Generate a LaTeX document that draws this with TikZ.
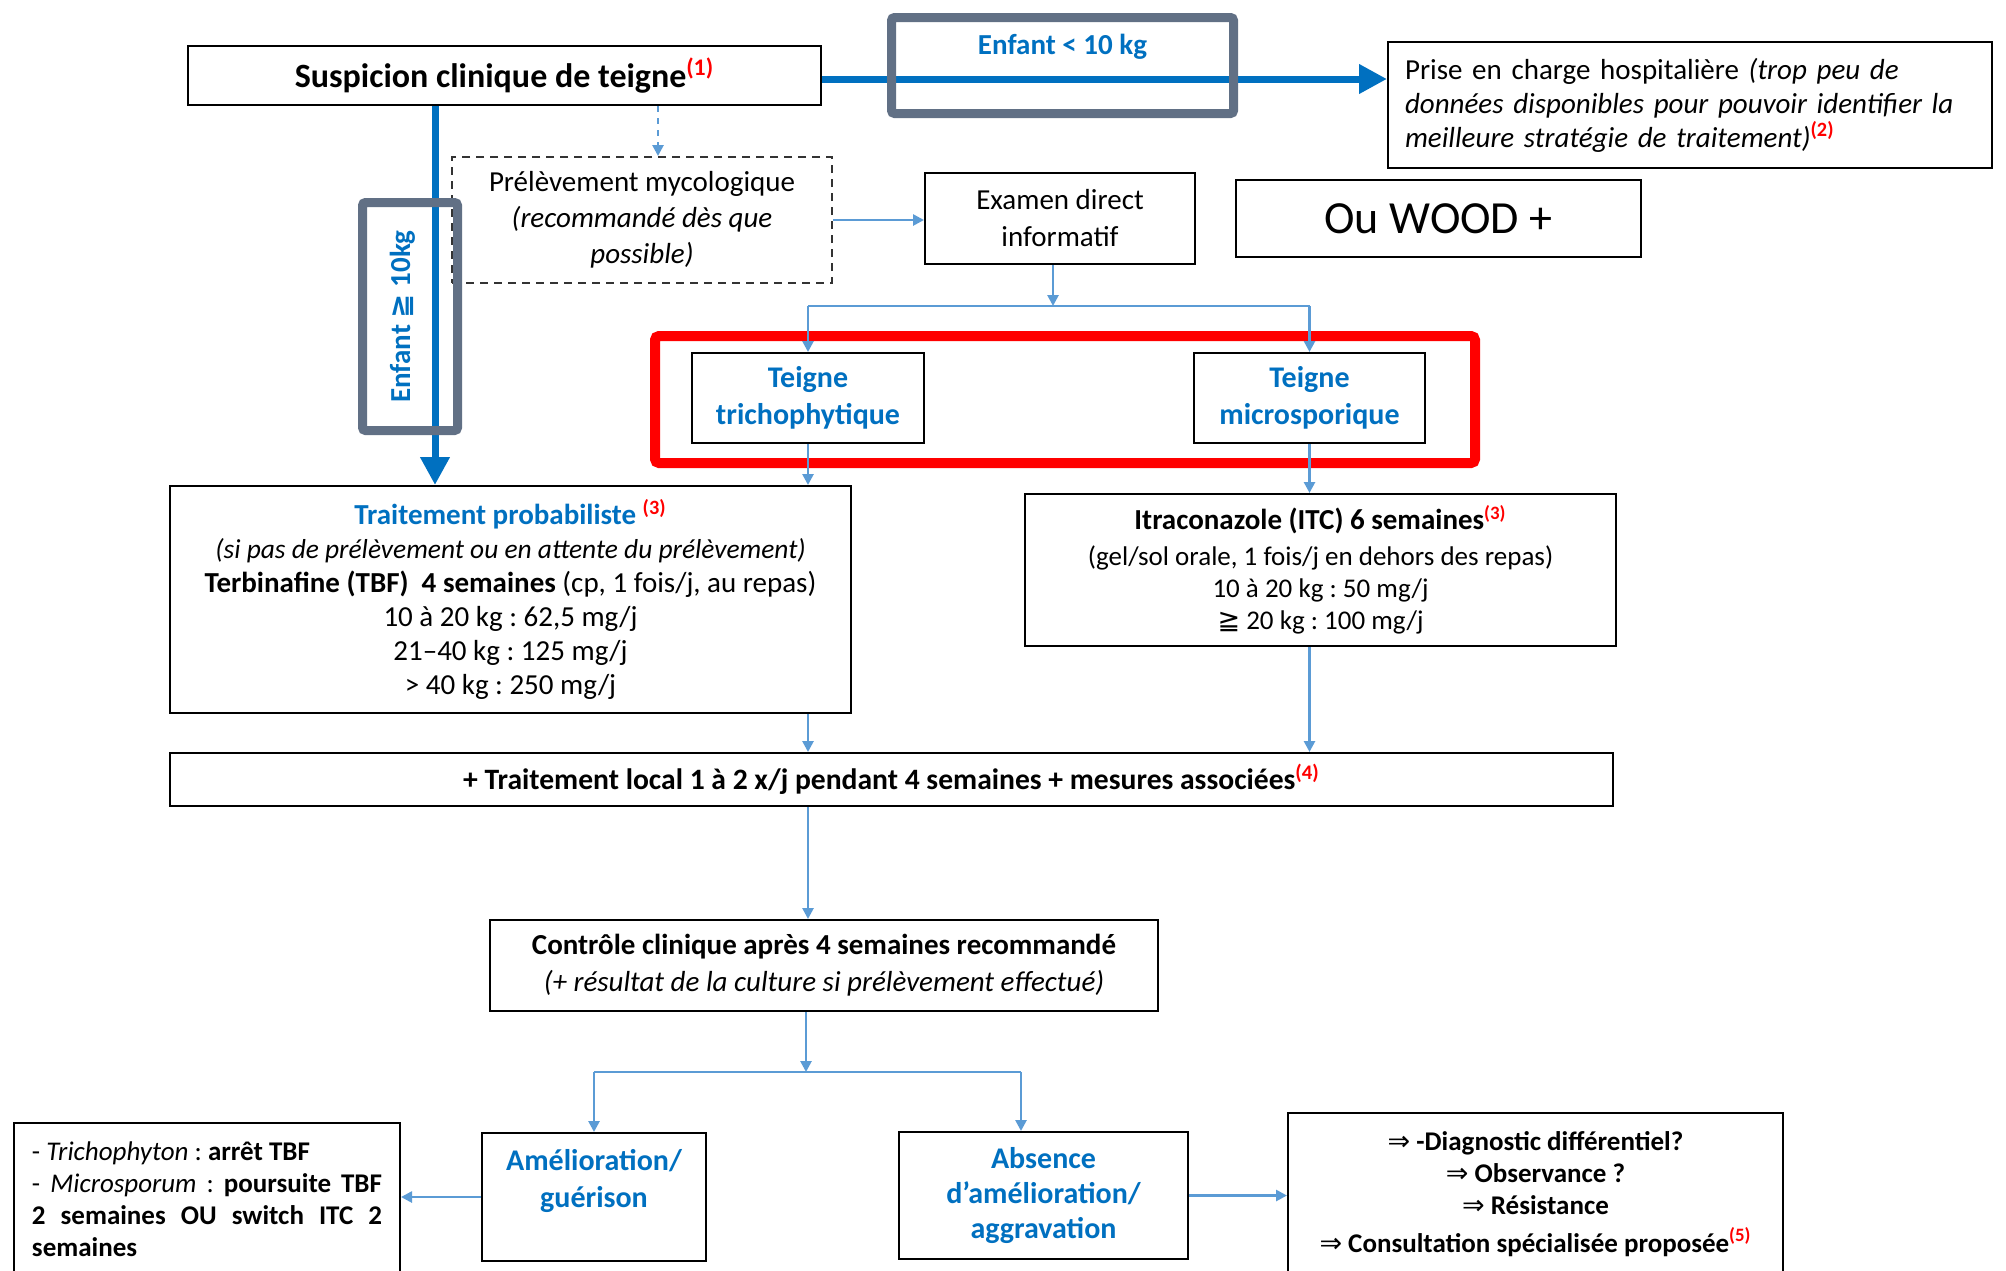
\documentclass[tikz,border=0pt]{standalone}
\usepackage{fontspec}
\setmainfont{Carlito}
\newfontfamily\symbfont{DejaVu Sans}
\usetikzlibrary{arrows.meta,positioning}

\definecolor{txtblue}{RGB}{0,112,192}
\definecolor{linkblue}{RGB}{91,155,213}
\definecolor{framegray}{RGB}{97,112,133}

\newcommand{\refnote}[1]{\textsuperscript{\textcolor{red}{\bfseries(#1)}}}
\newcommand{\impl}{{\symbfont\mdseries ⇒}}
\newcommand{\geqqsym}{{\symbfont ≧}}
\frenchspacing

\begin{document}
\begin{tikzpicture}[x=0.5pt, y=-0.5pt]
	%\draw[help lines] (0,0) grid (2006,1270);
	\tikzset{
		box/.style 			= {draw=black, line width=1pt, fill=white, align=center, inner sep=0pt,
			font=\fontsize{14.5}{17}\selectfont},
		bluetxt/.style 		= {text=txtblue, font=\fontsize{15}{18.5}\selectfont\bfseries},
		grayframe/.style 	= {draw=framegray, line width=4.5pt, rounded corners=1.5pt, inner sep=0pt,
			text=txtblue, font=\fontsize{14.5}{17}\selectfont\bfseries},
		redframe/.style 	= {draw=red, line width=5pt, rounded corners=2pt},
		link/.style 		= {draw=linkblue, line width=1.3pt},
		linkarrow/.style 	= {link, -{Triangle[length=5.5pt, width=5.5pt]}},
		bigarrow/.style 	= {draw=txtblue, line width=3.5pt, -{Triangle[length=14pt, width=14pt]}}
	}
	
	\fill[white] (0,0) rectangle (2006,1270);
	\useasboundingbox (0,0) rectangle (2006,1270);
	
	\node[box, minimum width=316.5pt, minimum height=29.5pt,
		font=\fontsize{17}{20}\selectfont\bfseries] (susp) at (504.5,75.5)
		{Suspicion clinique de teigne\refnote{1}};
	\node[box, minimum width=302pt, minimum height=63pt, text width=285pt,
		inner xsep=8.5pt, align=left] (prise) at (1690,105)
		{Prise en charge hospitalière \textit{(trop peu de}\\
		\textit{données disponibles pour pouvoir identifier la}\\
		\textit{meilleure stratégie de traitement)}\refnote{2}};
	\node[box, line width=0.8pt, minimum width=202.5pt, minimum height=38.5pt,
		font=\fontsize{23}{27}\selectfont] (wood) at (1438.5,218.5) {Ou WOOD +};
	\node[box, dashed, dash pattern=on 4pt off 3pt, draw=black!80, minimum width=190pt,
		minimum height=63pt, font=\fontsize{14.5}{18}\selectfont] (prel) at (642,220)
		{Prélèvement mycologique\\\textit{(recommandé dès que}\\\textit{possible)}};
	\node[box, minimum width=135pt, minimum height=45.5pt,
		font=\fontsize{14.5}{18.5}\selectfont] (exam) at (1060,218.5) {Examen direct\\informatif};
	
	\node[box, bluetxt, minimum width=116pt, minimum height=45pt] (tricho) at (808,398)
		{Teigne\\trichophytique};
	\node[box, bluetxt, minimum width=115.5pt, minimum height=45pt] (micro) at (1309.5,398)
		{Teigne\\microsporique};
	\node[redframe, minimum width=410pt, minimum height=63.5pt] (hilite) at (1065,399.5) {};
	
	\node[box, minimum width=340.5pt, minimum height=113.5pt] (trait) at (510.5,599.5)
		{\textcolor{txtblue}{\bfseries Traitement probabiliste} \refnote{3}\\
		{\fontsize{13.7}{17}\selectfont\itshape (si pas de prélèvement ou en attente du prélèvement)}\\
		\textbf{Terbinafine (TBF)\ \ 4 semaines} (cp, 1 fois/j, au repas)\\
		10 à 20 kg : 62,5 mg/j\\
		21–40 kg : 125 mg/j\\
		> 40 kg : 250 mg/j};
	\node[box, minimum width=295.5pt, minimum height=76pt,
		font=\fontsize{13.5}{16}\selectfont] (itra) at (1320.5,570)
		{{\fontsize{14.5}{17}\selectfont\bfseries Itraconazole (ITC) 6 semaines}\refnote{3}\\[2pt]
		(gel/sol orale, 1 fois/j en dehors des repas)\\
		10 à 20 kg : 50 mg/j\\
		\geqqsym{} 20 kg : 100 mg/j};
	\node[box, minimum width=721.5pt, minimum height=26.5pt,
		font=\fontsize{14.8}{17}\selectfont\bfseries] (local) at (891.5,779.5)
		{+ Traitement local 1 à 2 x/j pendant 4 semaines + mesures associées\refnote{4}};
	\node[box, minimum width=334pt, minimum height=45.5pt,
		font=\fontsize{14.5}{18.5}\selectfont] (ctrl) at (824,965.5)
		{\textbf{Contrôle clinique après 4 semaines recommandé}\\
		\textit{(+ résultat de la culture si prélèvement effectué)}};
	
	\node[box, bluetxt, minimum width=112pt, minimum height=64pt] (amel) at (594,1197)
		{Amélioration/\\guérison\\~};
	\node[box, bluetxt, minimum width=144.5pt, minimum height=63.5pt,
		font=\fontsize{15}{17.5}\selectfont\bfseries] (abs) at (1043.5,1195.5)
		{Absence\\d’amélioration/\\aggravation};
	\node[box, minimum width=193pt, minimum height=76pt, text width=175pt, inner xsep=9pt,
		align=justify, font=\fontsize{13.5}{16}\selectfont] (trich) at (207,1199)
		{- \textit{Trichophyton} : \textbf{arrêt TBF}\\
		- \textit{Microsporum} : \textbf{poursuite TBF}\linebreak
		\textbf{2 semaines OU switch ITC 2}\linebreak
		\textbf{semaines}};
	\node[box, minimum width=247.5pt, minimum height=81pt,
		font=\fontsize{13.5}{16}\selectfont\bfseries] (diag) at (1535.5,1194)
		{\impl{} -Diagnostic différentiel?\\
		\impl{} Observance ?\\
		\impl{} Résistance\\[3pt]
		\impl{} Consultation spécialisée proposée\refnote{5}};
	
	% weight split
	\coordinate (bigy) at (0,79);
	\draw[bigarrow] (susp.east |- bigy) -- (prise.west |- bigy);
	\node[grayframe, minimum width=171pt, minimum height=48pt, text height=10pt,
		text depth=21pt] (enfA) at (1062.5,65.5) {Enfant < 10 kg};
	\coordinate (thickx) at (435,0);
	\draw[bigarrow] (susp.south -| thickx) -- (trait.north -| thickx);
	\node[grayframe, rotate=90, minimum width=114pt, minimum height=47.5pt, text height=10pt,
		text depth=10pt] (enfB) at (410,316.5) {Enfant \geqqsym{} 10kg};
	
	% thin links
	\coordinate (dashx) at (658,0);
	\draw[linkarrow, dashed] (susp.south -| dashx) -- (prel.north -| dashx);
	\draw[linkarrow] (prel.east) -- (prel.east -| exam.west);
	\coordinate (split1) at (1053,306);
	\draw[linkarrow] (exam.south -| split1) -- (split1);
	\draw[link] (tricho.north |- split1) -- (micro.north |- split1);
	\draw[linkarrow] (tricho.north |- split1) -- (tricho.north);
	\draw[linkarrow] (micro.north |- split1) -- (micro.north);
	\draw[linkarrow] (tricho.south) -- (tricho.south |- trait.north);
	\draw[linkarrow] (micro.south) -- (micro.south |- itra.north);
	\draw[linkarrow] (tricho.south |- trait.south) -- (tricho.south |- local.north);
	\draw[linkarrow] (micro.south |- itra.south) -- (micro.south |- local.north);
	\draw[linkarrow] (tricho.south |- local.south) -- (tricho.south |- ctrl.north);
	\coordinate (split2) at (806,1072);
	\coordinate (absx) at (1021,1072);
	\draw[linkarrow] (ctrl.south -| split2) -- (split2);
	\draw[link] (amel.north |- split2) -- (absx);
	\draw[linkarrow] (amel.north |- split2) -- (amel.north);
	\draw[linkarrow] (absx) -- (absx |- abs.north);
	\draw[linkarrow] (amel.west) -- (amel.west -| trich.east);
	\draw[linkarrow] (abs.east) -- (abs.east -| diag.west);
\end{tikzpicture}
\end{document}
